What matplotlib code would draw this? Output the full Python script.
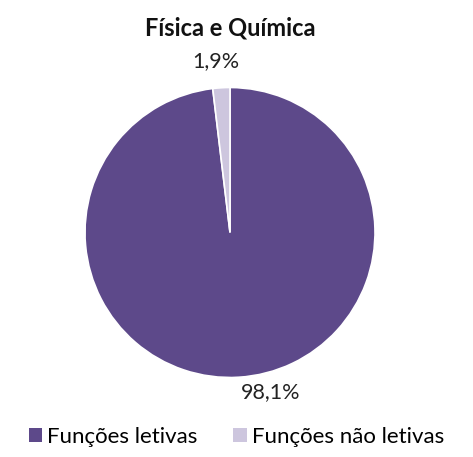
import matplotlib.pyplot as plt
from matplotlib.patches import Patch

plt.rcParams['font.family'] = ['Lato', 'DejaVu Sans']

categorias = ["Funções letivas", "Funções não letivas"]
valores = [98.1, 1.9]
rotulos = ["98,1%", "1,9%"]
cores = ["#5d498a", "#cdc6de"]

W, H = 473, 457
fig = plt.figure(figsize=(W / 100, H / 100), dpi=100)
cx, cy, r = 230, 232.5, 145
ax = fig.add_axes([(cx - r) / W, (H - cy - r) / H, 2 * r / W, 2 * r / H])
wedges, _ = ax.pie(valores, colors=cores, startangle=90, counterclock=False,
                   wedgeprops=dict(edgecolor="white", linewidth=1.2))
ax.set_xlim(-1, 1)
ax.set_ylim(-1, 1)
ax.set_aspect("equal")

# rótulos de dados (posições ao estilo Excel)
ax.text(0.28, -1.10, rotulos[0], ha="center", va="center", fontsize=15.5, color="#222222", clip_on=False)
ax.text(-0.10, 1.18, rotulos[1], ha="center", va="center", fontsize=15.5, color="#222222", clip_on=False)

fig.text(cx / W, 1 - 28 / H, "Física e Química", ha="center", va="center",
         fontsize=17, fontweight="bold", color="#111111")

handles = [Patch(facecolor=c, edgecolor="none") for c in cores]
fig.legend(handles, categorias, loc="center", bbox_to_anchor=(0.5, 1 - 437 / H),
           ncol=2, frameon=False, fontsize=16, handlelength=0.6, handleheight=0.6,
           handletextpad=0.25, columnspacing=1.6)

fig.savefig("out.png", dpi=100)
